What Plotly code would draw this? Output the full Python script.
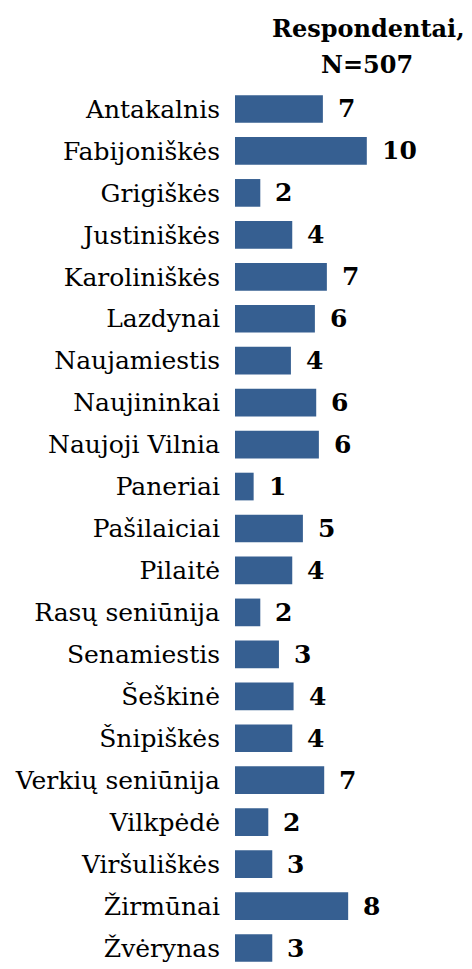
import plotly.graph_objects as go

categories = ["Antakalnis", "Fabijoniškės", "Grigiškės", "Justiniškės", "Karoliniškės",
              "Lazdynai", "Naujamiestis", "Naujininkai", "Naujoji Vilnia", "Paneriai",
              "Pašilaiciai", "Pilaitė", "Rasų seniūnija", "Senamiestis", "Šeškinė",
              "Šnipiškės", "Verkių seniūnija", "Vilkpėdė", "Viršuliškės", "Žirmūnai", "Žvėrynas"]
values = [6.6, 9.9, 1.9, 4.3, 6.9, 6.0, 4.2, 6.1, 6.3, 1.4, 5.1, 4.3, 1.9, 3.3, 4.4,
          4.3, 6.7, 2.5, 2.8, 8.5, 2.8]
labels = ["7", "10", "2", "4", "7", "6", "4", "6", "6", "1", "5", "4", "2", "3", "4",
          "4", "7", "2", "3", "8", "3"]
title_lines = ["Respondentai,", "N=507"]

FONT = "DejaVu Serif"
BAR = "#365F91"

fig = go.Figure()
fig.add_trace(go.Bar(
    x=values, y=categories, orientation="h",
    marker=dict(color=BAR, line=dict(width=0)),
    hoverinfo="skip",
))

for c, v, t in zip(categories, values, labels):
    fig.add_annotation(x=v, y=c, text="<b>" + t + "</b>", showarrow=False,
                       xanchor="left", yanchor="middle", xshift=13,
                       font=dict(family=FONT, size=25, color="black"))

fig.add_annotation(x=0.563, y=1, xref="paper", yref="paper", xanchor="center",
                   yanchor="bottom", yshift=43, showarrow=False,
                   text="<b>" + title_lines[0] + "</b>",
                   font=dict(family=FONT, size=24, color="black"))
fig.add_annotation(x=0.555, y=1, xref="paper", yref="paper", xanchor="center",
                   yanchor="bottom", yshift=7, showarrow=False,
                   text="<b>" + title_lines[1] + "</b>",
                   font=dict(family=FONT, size=24, color="black"))

fig.update_layout(
    width=464, height=961,
    margin=dict(l=227, r=0, t=80, b=0, autoexpand=False),
    paper_bgcolor="white", plot_bgcolor="white",
    bargap=0.34,
    showlegend=False,
    xaxis=dict(range=[0, 17.8], visible=False, fixedrange=True),
    yaxis=dict(autorange="reversed", showline=False, showgrid=False, zeroline=False,
               automargin=False,
               ticks="outside", ticklen=9, tickcolor="rgba(0,0,0,0)",
               tickfont=dict(family=FONT, size=25, color="black"), fixedrange=True),
)

fig.write_html("out.html")
